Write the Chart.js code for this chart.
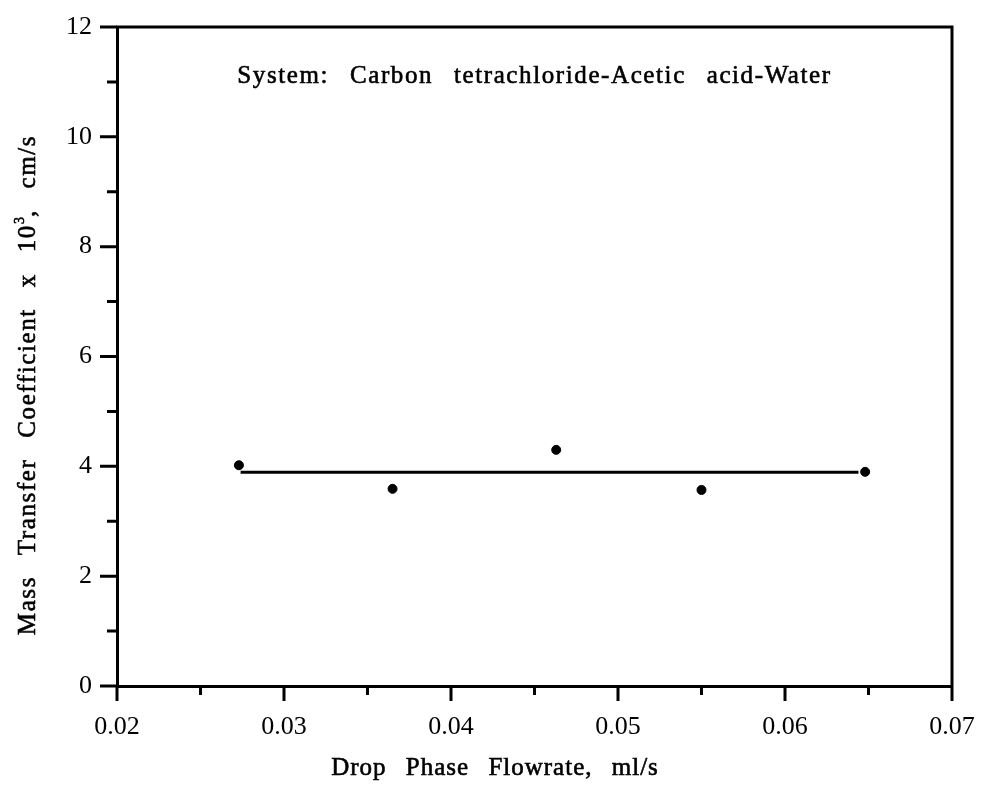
<!DOCTYPE html>
<html>
<head>
<meta charset="utf-8">
<script src="https://cdn.jsdelivr.net/npm/chart.js@4"></script>
<style>
  body { margin: 0; background: #fff; }
</style>
</head>
<body>
<canvas id="chart" width="984" height="786"></canvas>
<script>
// measured points
const flowrate = [0.0273, 0.0365, 0.0463, 0.0550, 0.0648];
const coefficient = [4.02, 3.59, 4.30, 3.57, 3.90];

// fitted line (flat)
const fitX = [0.0274, 0.0644];
const fitY = [3.89, 3.89];

// axis ticks
const xMajor = [0.02, 0.03, 0.04, 0.05, 0.06, 0.07];
const xMinor = [0.025, 0.035, 0.045, 0.055, 0.065];
const yMajor = [0, 2, 4, 6, 8, 10, 12];
const yMinor = [1, 3, 5, 7, 9, 11];

const note = "System: Carbon tetrachloride-Acetic acid-Water";
const xTitle = "Drop Phase Flowrate, ml/s";
const yTitle = ["Mass Transfer Coefficient x 10", "3", ", cm/s"];

const FONT = "'Liberation Serif', 'DejaVu Serif', serif";

function spaced(ctx, size, letter, word) {
  ctx.font = size + "px " + FONT;
  ctx.letterSpacing = letter + "px";
  ctx.wordSpacing = word + "px";
}

// scanned text looks a bit heavier, so fill + thin stroke
function ink(ctx, text, x, y) {
  ctx.fillText(text, x, y);
  ctx.strokeText(text, x, y);
}

const extras = {
  id: "extras",
  beforeDraw(chart) {
    chart.ctx.letterSpacing = "0px";
    chart.ctx.wordSpacing = "0px";
  },
  afterDraw(chart) {
    const ctx = chart.ctx;
    const a = chart.chartArea;
    const xs = chart.scales.x;
    const ys = chart.scales.y;
    ctx.save();
    ctx.strokeStyle = "#000";
    ctx.lineWidth = 3;
    ctx.lineCap = "butt";

    // top + right frame
    ctx.beginPath();
    ctx.moveTo(a.left - 1, a.top);
    ctx.lineTo(a.right, a.top);
    ctx.lineTo(a.right, a.bottom);
    ctx.stroke();

    // tick marks, outward
    ctx.beginPath();
    xMajor.forEach(v => {
      const px = xs.getPixelForValue(v);
      ctx.moveTo(px, a.bottom); ctx.lineTo(px, a.bottom + 15);
    });
    xMinor.forEach(v => {
      const px = xs.getPixelForValue(v);
      ctx.moveTo(px, a.bottom); ctx.lineTo(px, a.bottom + 9);
    });
    yMajor.forEach(v => {
      const py = ys.getPixelForValue(v);
      ctx.moveTo(a.left, py); ctx.lineTo(a.left - 17, py);
    });
    yMinor.forEach(v => {
      const py = ys.getPixelForValue(v);
      ctx.moveTo(a.left, py); ctx.lineTo(a.left - 10, py);
    });
    ctx.stroke();

    ctx.fillStyle = "#000";
    ctx.lineWidth = 0.6;
    ctx.textBaseline = "middle";
    ctx.textAlign = "center";

    // annotation inside the plot
    spaced(ctx, 25, 1.6, 13);
    ink(ctx, note, xs.getPixelForValue(0.045), ys.getPixelForValue(11.1));

    // x title
    spaced(ctx, 25, 1, 12);
    ink(ctx, xTitle, 495, 768);

    // y title with superscript
    ctx.translate(28, 385);
    ctx.rotate(-Math.PI / 2);
    ctx.textAlign = "left";
    spaced(ctx, 25, 1.6, 13);
    const w1 = ctx.measureText(yTitle[0]).width;
    const w3 = ctx.measureText(yTitle[2]).width;
    spaced(ctx, 14, 0, 0);
    const w2 = ctx.measureText(yTitle[1]).width;
    let x = -(w1 + w2 + w3) / 2;
    spaced(ctx, 25, 1.6, 13);
    ink(ctx, yTitle[0], x, 0);
    x += w1;
    spaced(ctx, 14, 0, 0);
    ink(ctx, yTitle[1], x, -8);
    x += w2;
    spaced(ctx, 25, 1.6, 13);
    ink(ctx, yTitle[2], x, 0);
    spaced(ctx, 12, 0, 0);
    ctx.restore();
  }
};

new Chart(document.getElementById("chart"), {
  type: "scatter",
  data: {
    datasets: [
      {
        data: flowrate.map((v, i) => ({ x: v, y: coefficient[i] })),
        backgroundColor: "#000",
        borderColor: "#000",
        pointRadius: 4.5,
        pointStyle: "circle"
      },
      {
        data: fitX.map((v, i) => ({ x: v, y: fitY[i] })),
        showLine: true,
        borderColor: "#000",
        borderWidth: 3,
        pointRadius: 0
      }
    ]
  },
  options: {
    responsive: false,
    animation: false,
    layout: { padding: { top: 27, right: 32, left: 0, bottom: 0 } },
    plugins: { legend: { display: false }, tooltip: { enabled: false } },
    scales: {
      x: {
        type: "linear",
        min: 0.02,
        max: 0.07,
        afterBuildTicks: s => { s.ticks = xMajor.map(v => ({ value: v })); },
        afterFit: s => { s.height = 100; s.paddingLeft = 0; s.paddingRight = 0; },
        ticks: {
          callback: v => v.toFixed(2),
          font: { family: FONT, size: 26 },
          color: "#000",
          padding: 26,
          maxRotation: 0
        },
        grid: { drawOnChartArea: false, drawTicks: false },
        border: { color: "#000", width: 3 }
      },
      y: {
        type: "linear",
        min: 0,
        max: 12,
        afterBuildTicks: s => { s.ticks = yMajor.map(v => ({ value: v })); },
        afterFit: s => { s.width = 117; s.paddingTop = 0; s.paddingBottom = 0; },
        ticks: {
          font: { family: FONT, size: 26 },
          color: "#000",
          padding: 25
        },
        grid: { drawOnChartArea: false, drawTicks: false },
        border: { color: "#000", width: 3 }
      }
    }
  },
  plugins: [extras]
});
</script>
</body>
</html>
